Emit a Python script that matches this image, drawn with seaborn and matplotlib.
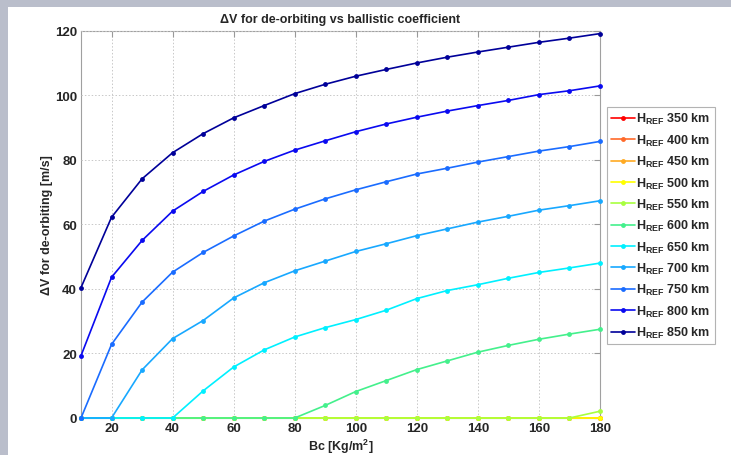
import numpy as np
import pandas as pd
import matplotlib
matplotlib.use("Agg")
import matplotlib.pyplot as plt
import seaborn as sns
from matplotlib.patches import Rectangle

# Ballistic coefficient [kg/m^2]
bc = [10, 20, 30, 40, 50, 60, 70, 80, 90, 100, 110, 120, 130, 140, 150, 160, 170, 180]

# Reference altitudes [km]
h_ref = [350, 400, 450, 500, 550, 600, 650, 700, 750, 800, 850]

# delta-V for de-orbiting [m/s]
dv_350 = [0] * 18
dv_400 = [0] * 18
dv_450 = [0] * 18
dv_500 = [0] * 18
dv_550 = [0, 0, 0, 0, 0, 0, 0, 0, 0, 0, 0, 0, 0, 0, 0, 0, 0, 2.1]
dv_600 = [0, 0, 0, 0, 0, 0, 0, 0, 3.9, 8.2, 11.6, 15.0, 17.7, 20.4, 22.5, 24.4, 26.0, 27.5]
dv_650 = [0, 0, 0, 0, 8.4, 15.8, 21.1, 25.1, 28.0, 30.5, 33.4, 37.0, 39.5, 41.3, 43.3, 45.1, 46.5, 48.0]
dv_700 = [0, 0, 14.9, 24.6, 30.2, 37.2, 41.9, 45.6, 48.6, 51.6, 54.0, 56.5, 58.6, 60.7, 62.5, 64.4, 65.8, 67.3]
dv_750 = [0, 22.8, 35.9, 45.2, 51.3, 56.4, 61.0, 64.7, 67.9, 70.7, 73.2, 75.6, 77.4, 79.3, 81.0, 82.7, 84.1, 85.7]
dv_800 = [19.3, 43.6, 55.0, 64.1, 70.2, 75.3, 79.5, 83.0, 85.9, 88.7, 91.1, 93.2, 95.1, 96.8, 98.4, 100.2, 101.4, 102.9]
dv_850 = [40.4, 62.2, 74.1, 82.2, 88.1, 93.0, 96.8, 100.5, 103.4, 105.9, 108.0, 110.0, 111.8, 113.4, 114.9, 116.4, 117.7, 119.1]

series = [dv_350, dv_400, dv_450, dv_500, dv_550, dv_600, dv_650, dv_700, dv_750, dv_800, dv_850]
colors = ["#FF0000", "#FF6A2A", "#FFAA22", "#FFFF00", "#A8FF40", "#44F08C",
          "#00F0FF", "#18A8FF", "#1A6CFF", "#0A0AF0", "#000099"]

labels = ["H$_{REF}$ %d km" % h for h in h_ref]
rows = []
for lab, vals in zip(labels, series):
    for b, v in zip(bc, vals):
        rows.append({"Bc": b, "dV": v, "H": lab})
df = pd.DataFrame(rows)

sns.set_style("white")
plt.rcParams["font.family"] = ["Liberation Sans", "DejaVu Sans"]
plt.rcParams["font.weight"] = "bold"
plt.rcParams["mathtext.fontset"] = "custom"
plt.rcParams["mathtext.rm"] = "Liberation Sans:bold"
plt.rcParams["mathtext.bf"] = "Liberation Sans:bold"
plt.rcParams["mathtext.default"] = "bf"

fig = plt.figure(figsize=(7.31, 4.56), dpi=100)
fig.patch.set_facecolor("#BABECB")
fig.add_artist(Rectangle((8 / 731, 0), 1, 1 - 8 / 456, transform=fig.transFigure,
                         facecolor="white", edgecolor="none", zorder=-5))
ax = fig.add_axes([81 / 731, 1 - 419 / 456, 519 / 731, (419 - 31.7) / 456])

sns.lineplot(data=df, x="Bc", y="dV", hue="H", palette=colors, marker="o",
             markersize=3.5, markeredgewidth=0, linewidth=1.2, ax=ax, legend=False)
for ln in ax.get_lines():
    ln.set_clip_on(False)

ax.set_xlim(10, 180)
ax.set_ylim(0, 120)
ax.set_xticks(np.arange(20, 181, 20))
ax.set_yticks(np.arange(0, 121, 20))
ax.grid(True, color="#C8C8C8", linestyle=(0, (1.5, 2)), linewidth=0.7)
ax.tick_params(direction="in", length=4, top=True, right=True, color="#999999",
               labelsize=9.5, pad=3)
for lab in ax.get_xticklabels() + ax.get_yticklabels():
    lab.set_fontweight("bold")
for sp in ax.spines.values():
    sp.set_color("#A0A0A0")
    sp.set_linewidth(0.8)
    sp.set_zorder(0.5)

ax.set_xlabel("Bc [Kg/m$^{2}$]", fontsize=9, fontweight="bold", labelpad=2)
ax.set_ylabel("\u0394V for de-orbiting [m/s]", fontsize=9, fontweight="bold", labelpad=1)
ax.set_title("\u0394V for de-orbiting vs ballistic coefficient", fontsize=9,
             fontweight="bold", pad=6)

handles = [plt.Line2D([], [], color=c, marker="o", markersize=3.5, markeredgewidth=0,
                      linewidth=1.2) for c in colors]
leg = ax.legend(handles, labels, loc="upper left", bbox_to_anchor=(607 / 731, 1 - 108 / 456),
                bbox_transform=fig.transFigure, fancybox=False, frameon=True,
                fontsize=9, handlelength=1.9, handletextpad=0.08, labelspacing=0.5,
                borderpad=0.35, borderaxespad=0)
leg.get_frame().set_edgecolor("#A0A0A0")
leg.get_frame().set_linewidth(0.8)
for t in leg.get_texts():
    t.set_fontweight("bold")

fig.savefig("out.png", dpi=100, facecolor=fig.get_facecolor())
